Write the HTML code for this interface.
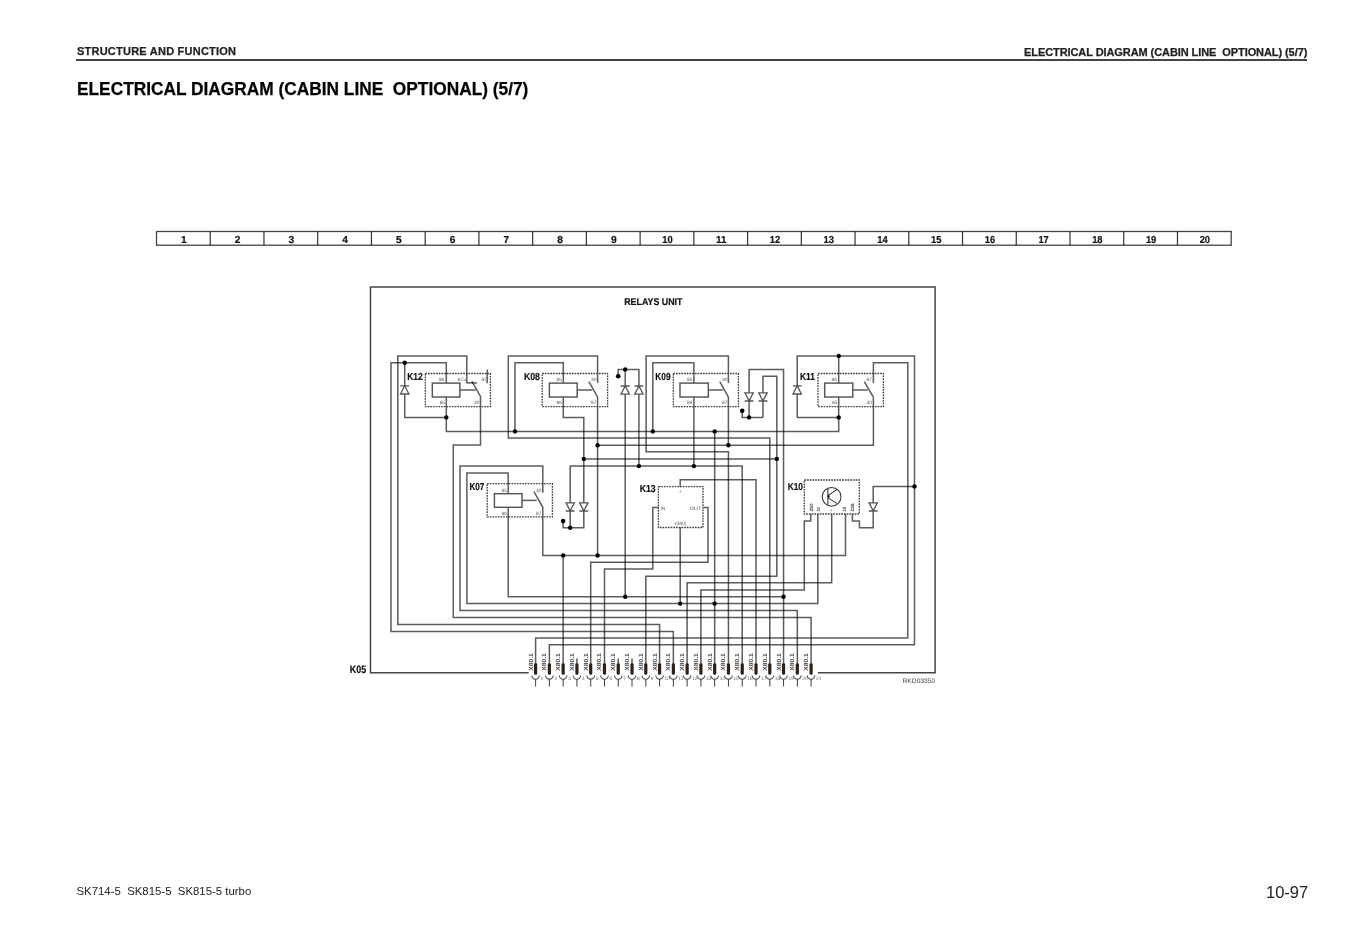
<!DOCTYPE html>
<html><head><meta charset="utf-8">
<style>
html,body{margin:0;padding:0;background:#fff;}
body{width:1349px;height:949px;position:relative;overflow:hidden;font-family:"Liberation Sans",sans-serif;color:#1a1a1a;}
.t{position:absolute;white-space:pre;line-height:1;}
.b{-webkit-text-stroke:0.25px currentColor;}
#hl{left:77px;top:45.5px;font-size:11px;font-weight:bold;letter-spacing:0.23px;color:#222;}
#hr{left:1024px;top:46.5px;font-size:11px;font-weight:bold;color:#222;letter-spacing:-0.08px;}
#rule{position:absolute;left:76px;top:59px;width:1230.5px;height:1.6px;background:#444;}
#title{left:77px;top:79.5px;font-size:18px;font-weight:bold;color:#000;transform:scaleX(0.961);transform-origin:0 0;}
#fl{left:76.5px;top:885.5px;font-size:11.4px;color:#222;}
#fr{left:1266px;top:883.5px;font-size:16.5px;color:#222;}
svg path{mix-blend-mode:multiply;}
svg text{font-family:"Liberation Sans",sans-serif;text-rendering:geometricPrecision;}
</style></head><body>
<div class="t b" id="hl">STRUCTURE AND FUNCTION</div>
<div class="t b" id="hr">ELECTRICAL DIAGRAM (CABIN LINE  OPTIONAL) (5/7)</div>
<div id="rule"></div>
<div class="t b" id="title">ELECTRICAL DIAGRAM (CABIN LINE  OPTIONAL) (5/7)</div>
<svg width="1349" height="949" viewBox="0 0 1349 949" style="position:absolute;left:0;top:0">
<rect x="156.5" y="231.5" width="1074.7" height="13.7" fill="none" stroke="#444" stroke-width="1.3"/>
<path d="M210.24,231.5 V245.2" stroke="#333" stroke-width="1.2"/>
<path d="M263.97,231.5 V245.2" stroke="#333" stroke-width="1.2"/>
<path d="M317.7,231.5 V245.2" stroke="#333" stroke-width="1.2"/>
<path d="M371.44,231.5 V245.2" stroke="#333" stroke-width="1.2"/>
<path d="M425.18,231.5 V245.2" stroke="#333" stroke-width="1.2"/>
<path d="M478.91,231.5 V245.2" stroke="#333" stroke-width="1.2"/>
<path d="M532.64,231.5 V245.2" stroke="#333" stroke-width="1.2"/>
<path d="M586.38,231.5 V245.2" stroke="#333" stroke-width="1.2"/>
<path d="M640.12,231.5 V245.2" stroke="#333" stroke-width="1.2"/>
<path d="M693.85,231.5 V245.2" stroke="#333" stroke-width="1.2"/>
<path d="M747.59,231.5 V245.2" stroke="#333" stroke-width="1.2"/>
<path d="M801.32,231.5 V245.2" stroke="#333" stroke-width="1.2"/>
<path d="M855.05,231.5 V245.2" stroke="#333" stroke-width="1.2"/>
<path d="M908.79,231.5 V245.2" stroke="#333" stroke-width="1.2"/>
<path d="M962.52,231.5 V245.2" stroke="#333" stroke-width="1.2"/>
<path d="M1016.26,231.5 V245.2" stroke="#333" stroke-width="1.2"/>
<path d="M1069.99,231.5 V245.2" stroke="#333" stroke-width="1.2"/>
<path d="M1123.73,231.5 V245.2" stroke="#333" stroke-width="1.2"/>
<path d="M1177.47,231.5 V245.2" stroke="#333" stroke-width="1.2"/>
<text x="183.87" y="242.8" font-size="10.2" font-weight="bold" fill="#111" stroke="#111" stroke-width="0.2" text-anchor="middle">1</text>
<text x="237.6" y="242.8" font-size="10.2" font-weight="bold" fill="#111" stroke="#111" stroke-width="0.2" text-anchor="middle">2</text>
<text x="291.34" y="242.8" font-size="10.2" font-weight="bold" fill="#111" stroke="#111" stroke-width="0.2" text-anchor="middle">3</text>
<text x="345.07" y="242.8" font-size="10.2" font-weight="bold" fill="#111" stroke="#111" stroke-width="0.2" text-anchor="middle">4</text>
<text x="398.81" y="242.8" font-size="10.2" font-weight="bold" fill="#111" stroke="#111" stroke-width="0.2" text-anchor="middle">5</text>
<text x="452.54" y="242.8" font-size="10.2" font-weight="bold" fill="#111" stroke="#111" stroke-width="0.2" text-anchor="middle">6</text>
<text x="506.28" y="242.8" font-size="10.2" font-weight="bold" fill="#111" stroke="#111" stroke-width="0.2" text-anchor="middle">7</text>
<text x="560.01" y="242.8" font-size="10.2" font-weight="bold" fill="#111" stroke="#111" stroke-width="0.2" text-anchor="middle">8</text>
<text x="613.75" y="242.8" font-size="10.2" font-weight="bold" fill="#111" stroke="#111" stroke-width="0.2" text-anchor="middle">9</text>
<text x="667.48" y="242.8" font-size="10.2" font-weight="bold" fill="#111" stroke="#111" stroke-width="0.2" text-anchor="middle" textLength="10.4" lengthAdjust="spacingAndGlyphs">10</text>
<text x="721.22" y="242.8" font-size="10.2" font-weight="bold" fill="#111" stroke="#111" stroke-width="0.2" text-anchor="middle" textLength="10.4" lengthAdjust="spacingAndGlyphs">11</text>
<text x="774.95" y="242.8" font-size="10.2" font-weight="bold" fill="#111" stroke="#111" stroke-width="0.2" text-anchor="middle" textLength="10.4" lengthAdjust="spacingAndGlyphs">12</text>
<text x="828.69" y="242.8" font-size="10.2" font-weight="bold" fill="#111" stroke="#111" stroke-width="0.2" text-anchor="middle" textLength="10.4" lengthAdjust="spacingAndGlyphs">13</text>
<text x="882.42" y="242.8" font-size="10.2" font-weight="bold" fill="#111" stroke="#111" stroke-width="0.2" text-anchor="middle" textLength="10.4" lengthAdjust="spacingAndGlyphs">14</text>
<text x="936.16" y="242.8" font-size="10.2" font-weight="bold" fill="#111" stroke="#111" stroke-width="0.2" text-anchor="middle" textLength="10.4" lengthAdjust="spacingAndGlyphs">15</text>
<text x="989.89" y="242.8" font-size="10.2" font-weight="bold" fill="#111" stroke="#111" stroke-width="0.2" text-anchor="middle" textLength="10.4" lengthAdjust="spacingAndGlyphs">16</text>
<text x="1043.63" y="242.8" font-size="10.2" font-weight="bold" fill="#111" stroke="#111" stroke-width="0.2" text-anchor="middle" textLength="10.4" lengthAdjust="spacingAndGlyphs">17</text>
<text x="1097.36" y="242.8" font-size="10.2" font-weight="bold" fill="#111" stroke="#111" stroke-width="0.2" text-anchor="middle" textLength="10.4" lengthAdjust="spacingAndGlyphs">18</text>
<text x="1151.1" y="242.8" font-size="10.2" font-weight="bold" fill="#111" stroke="#111" stroke-width="0.2" text-anchor="middle" textLength="10.4" lengthAdjust="spacingAndGlyphs">19</text>
<text x="1204.83" y="242.8" font-size="10.2" font-weight="bold" fill="#111" stroke="#111" stroke-width="0.2" text-anchor="middle" textLength="10.4" lengthAdjust="spacingAndGlyphs">20</text>
<path d="M528.7,672.8 H370.5 V287 H935.1 V672.8 H818" fill="none" stroke="#444" stroke-width="1.5" />
<path d="M466.8,382.9 V355.9 H397.8 V624.5 H659.58 V663.5" fill="none" stroke="#5c5c5c" stroke-width="1.5" />
<path d="M446.3,383.1 V362.8 H391 V631.4 H673.35 V663.5" fill="none" stroke="#5c5c5c" stroke-width="1.5" />
<path d="M404.7,362.8 V417.4 H446.3" fill="none" stroke="#5c5c5c" stroke-width="1.5" />
<path d="M446.3,397 V431.4 H838.7 V397" fill="none" stroke="#5c5c5c" stroke-width="1.5" />
<path d="M466.8,382.9 H476.9" fill="none" stroke="#5c5c5c" stroke-width="1.5" />
<path d="M471.9,381.4 L480.5,396.5 V445 H453.3 V617.6 H811.1 V663.5" fill="none" stroke="#5c5c5c" stroke-width="1.5" />
<path d="M459.9,390 H475.6" fill="none" stroke="#5c5c5c" stroke-width="1.5" />
<path d="M487.2,369.4 V383.3" fill="none" stroke="#5c5c5c" stroke-width="1.5" />
<path d="M400.3,385.8 H409.09999999999997 M404.7,385.8 L400.5,394.0 H408.9 Z" fill="#fff" stroke="#555" stroke-width="1.3" style="mix-blend-mode:normal"/>
<rect x="425.3" y="373.5" width="65.1" height="33.1" fill="none" stroke="#404040" stroke-width="1.3" stroke-dasharray="1.7 1.0"/>
<rect x="432.3" y="383.1" width="27.6" height="13.9" fill="none" stroke="#555" stroke-width="1.45"/>
<path d="M597.6,382.9 V355.9 H508.3 V438 H769.78 V663.5" fill="none" stroke="#5c5c5c" stroke-width="1.5" />
<path d="M563.3,383.1 V362.8 H515 V431.4" fill="none" stroke="#5c5c5c" stroke-width="1.5" />
<path d="M563.1,521.1 V527.8 H583.8 V417.4 H563.3 V397" fill="none" stroke="#5c5c5c" stroke-width="1.5" />
<path d="M588.9,381.7 L597.6,397.2 V555.5" fill="none" stroke="#5c5c5c" stroke-width="1.5" />
<path d="M577.2,390 H592.2" fill="none" stroke="#5c5c5c" stroke-width="1.5" />
<path d="M597.6,445.2 H873.4 V397.2" fill="none" stroke="#5c5c5c" stroke-width="1.5" />
<path d="M583.8,458.9 H776.8" fill="none" stroke="#5c5c5c" stroke-width="1.5" />
<rect x="542.2" y="373.5" width="65.4" height="33.1" fill="none" stroke="#404040" stroke-width="1.3" stroke-dasharray="1.7 1.0"/>
<rect x="549.4" y="383.1" width="27.8" height="13.9" fill="none" stroke="#555" stroke-width="1.45"/>
<path d="M618.2,376.2 V369.4 H638.9 V466.1" fill="none" stroke="#5c5c5c" stroke-width="1.5" />
<path d="M625.2,369.4 V596.8" fill="none" stroke="#5c5c5c" stroke-width="1.5" />
<path d="M620.8000000000001,386 H629.6 M625.2,386 L621.0,394.2 H629.4000000000001 Z" fill="#fff" stroke="#555" stroke-width="1.3" style="mix-blend-mode:normal"/>
<path d="M634.5,386 H643.3 M638.9,386 L634.6999999999999,394.2 H643.1 Z" fill="#fff" stroke="#555" stroke-width="1.3" style="mix-blend-mode:normal"/>
<path d="M728.4,382.9 V355.9 H646.1 V451.7 H728.45 V663.5" fill="none" stroke="#5c5c5c" stroke-width="1.5" />
<path d="M693.9,383.1 V362.8 H652.8 V431.4" fill="none" stroke="#5c5c5c" stroke-width="1.5" />
<path d="M693.9,397 V466.1" fill="none" stroke="#5c5c5c" stroke-width="1.5" />
<path d="M719.8,381.7 L728.4,397.2 V445.2" fill="none" stroke="#5c5c5c" stroke-width="1.5" />
<path d="M708.3,390 H722.8" fill="none" stroke="#5c5c5c" stroke-width="1.5" />
<rect x="673.3" y="373.5" width="65.1" height="33.1" fill="none" stroke="#404040" stroke-width="1.3" stroke-dasharray="1.7 1.0"/>
<rect x="680" y="383.1" width="28.3" height="13.9" fill="none" stroke="#555" stroke-width="1.45"/>
<path d="M570.2,527.8 V466.1 H742.23 V663.5" fill="none" stroke="#5c5c5c" stroke-width="1.5" />
<path d="M566.0,502.8 H574.4000000000001 L570.2,510.8 Z M565.8000000000001,511.0 H574.6" fill="#fff" stroke="#555" stroke-width="1.3" style="mix-blend-mode:normal"/>
<path d="M579.5999999999999,502.8 H588.0 L583.8,510.8 Z M579.4,511.0 H588.1999999999999" fill="#fff" stroke="#555" stroke-width="1.3" style="mix-blend-mode:normal"/>
<path d="M749.1,417.4 V369.4 H783.55 V663.5" fill="none" stroke="#5c5c5c" stroke-width="1.5" />
<path d="M763,417.4 V376.2 H776.8 V576.2 H645.8 V663.5" fill="none" stroke="#5c5c5c" stroke-width="1.5" />
<path d="M742.2,410.7 V417.4 H763" fill="none" stroke="#5c5c5c" stroke-width="1.5" />
<path d="M744.9,392.8 H753.3000000000001 L749.1,400.8 Z M744.7,401.0 H753.5" fill="#fff" stroke="#555" stroke-width="1.3" style="mix-blend-mode:normal"/>
<path d="M758.8,392.8 H767.2 L763,400.8 Z M758.6,401.0 H767.4" fill="#fff" stroke="#555" stroke-width="1.3" style="mix-blend-mode:normal"/>
<path d="M714.68,431.4 V663.5" fill="none" stroke="#5c5c5c" stroke-width="1.5" />
<path d="M797.2,417.4 V355.9 H914.5 V644.8 H549.38 V663.5" fill="none" stroke="#5c5c5c" stroke-width="1.5" />
<path d="M838.7,355.9 V383.1" fill="none" stroke="#5c5c5c" stroke-width="1.5" />
<path d="M797.2,417.4 H838.7" fill="none" stroke="#5c5c5c" stroke-width="1.5" />
<path d="M873.4,382.9 V362.8 H907.8 V638 H535.6 V663.5" fill="none" stroke="#5c5c5c" stroke-width="1.5" />
<path d="M864.3,381.7 L873.4,397.2" fill="none" stroke="#5c5c5c" stroke-width="1.5" />
<path d="M852.8,390 H867.8" fill="none" stroke="#5c5c5c" stroke-width="1.5" />
<path d="M792.8000000000001,385.8 H801.6 M797.2,385.8 L793.0,394.0 H801.4000000000001 Z" fill="#fff" stroke="#555" stroke-width="1.3" style="mix-blend-mode:normal"/>
<rect x="818" y="373.5" width="65.4" height="33.1" fill="none" stroke="#404040" stroke-width="1.3" stroke-dasharray="1.7 1.0"/>
<rect x="824.7" y="383.1" width="28.1" height="13.9" fill="none" stroke="#555" stroke-width="1.45"/>
<path d="M542.8,492.8 V466.1 H460 V610.6 H797.33 V663.5" fill="none" stroke="#5c5c5c" stroke-width="1.5" />
<path d="M508.2,493.7 V473 H466.9 V603.6 H817.8 V514" fill="none" stroke="#5c5c5c" stroke-width="1.5" />
<path d="M508.2,507.3 V596.8 H783.6" fill="none" stroke="#5c5c5c" stroke-width="1.5" />
<path d="M533.9,491.7 L542.8,507.3 V555.5 H845.5 V514" fill="none" stroke="#5c5c5c" stroke-width="1.5" />
<path d="M522,500.4 H536.7" fill="none" stroke="#5c5c5c" stroke-width="1.5" />
<path d="M563.15,555.5 V663.5" fill="none" stroke="#5c5c5c" stroke-width="1.5" />
<rect x="487.2" y="483.7" width="65.2" height="33.1" fill="none" stroke="#404040" stroke-width="1.3" stroke-dasharray="1.7 1.0"/>
<rect x="494.4" y="493.7" width="27.6" height="13.6" fill="none" stroke="#555" stroke-width="1.45"/>
<path d="M680.2,486.7 V479.7 H756.0 V663.5" fill="none" stroke="#5c5c5c" stroke-width="1.5" />
<path d="M658.4,507.6 H652.8 V569 H604.48 V663.5" fill="none" stroke="#5c5c5c" stroke-width="1.5" />
<path d="M703,507.6 H708 V562.3 H590.7 V663.5" fill="none" stroke="#5c5c5c" stroke-width="1.5" />
<path d="M680.2,527.5 V603.6" fill="none" stroke="#5c5c5c" stroke-width="1.5" />
<rect x="658.4" y="486.7" width="44.6" height="40.8" fill="none" stroke="#404040" stroke-width="1.3" stroke-dasharray="1.7 1.0"/>
<path d="M810.7,514 V521 H804.3 V590 H700.9 V663.5" fill="none" stroke="#5c5c5c" stroke-width="1.5" />
<path d="M831.7,514 V582.8 H687.12 V663.5" fill="none" stroke="#5c5c5c" stroke-width="1.5" />
<path d="M852.4,514 V521 H859.4 V527.8 H873.2 V486.4 H914.5" fill="none" stroke="#5c5c5c" stroke-width="1.5" />
<path d="M869.0,502.8 H877.4000000000001 L873.2,510.8 Z M868.8000000000001,511.0 H877.6" fill="#fff" stroke="#555" stroke-width="1.3" style="mix-blend-mode:normal"/>
<rect x="804.3" y="480" width="55.0" height="34" fill="none" stroke="#404040" stroke-width="1.3" stroke-dasharray="1.7 1.0"/>
<circle cx="831.6" cy="496.8" r="9.4" fill="none" stroke="#333" stroke-width="1.05"/>
<path d="M827.9,489 V504.7 M827.9,495.6 L836.9,489.6 M827.9,497.6 L836.9,503.4" fill="none" stroke="#333" stroke-width="1.05" />
<path d="M576.93,658.4 V663.5" fill="none" stroke="#5c5c5c" stroke-width="1.5" />
<path d="M618.25,658.4 V663.5" fill="none" stroke="#5c5c5c" stroke-width="1.5" />
<path d="M632.02,658.4 V663.5" fill="none" stroke="#5c5c5c" stroke-width="1.5" />
<rect x="534.0" y="663.3" width="3.2" height="11.4" rx="1.1" fill="#2a2119"/>
<path d="M531.8,675.6 A3.8,3.6 0 0 0 539.4,675.6 M535.6,679.2 V686.5" fill="none" stroke="#444" stroke-width="1.05" />
<text x="540.6" y="679.6" font-size="4.8" font-weight="normal" fill="#666" text-anchor="start" >1</text>
<text transform="translate(532.6,670.7) rotate(-90)" font-size="6" font-weight="bold" fill="#4a4a4a" textLength="17.5" lengthAdjust="spacingAndGlyphs">X80.1</text>
<rect x="547.78" y="663.3" width="3.2" height="11.4" rx="1.1" fill="#2a2119"/>
<path d="M545.58,675.6 A3.8,3.6 0 0 0 553.18,675.6 M549.38,679.2 V686.5" fill="none" stroke="#444" stroke-width="1.05" />
<text x="554.38" y="679.6" font-size="4.8" font-weight="normal" fill="#666" text-anchor="start" >2</text>
<text transform="translate(546.38,670.7) rotate(-90)" font-size="6" font-weight="bold" fill="#4a4a4a" textLength="17.5" lengthAdjust="spacingAndGlyphs">X80.1</text>
<rect x="561.55" y="663.3" width="3.2" height="11.4" rx="1.1" fill="#2a2119"/>
<path d="M559.35,675.6 A3.8,3.6 0 0 0 566.95,675.6 M563.15,679.2 V686.5" fill="none" stroke="#444" stroke-width="1.05" />
<text x="568.15" y="679.6" font-size="4.8" font-weight="normal" fill="#666" text-anchor="start" >3</text>
<text transform="translate(560.15,670.7) rotate(-90)" font-size="6" font-weight="bold" fill="#4a4a4a" textLength="17.5" lengthAdjust="spacingAndGlyphs">X80.1</text>
<rect x="575.33" y="663.3" width="3.2" height="11.4" rx="1.1" fill="#2a2119"/>
<path d="M573.13,675.6 A3.8,3.6 0 0 0 580.73,675.6 M576.93,679.2 V686.5" fill="none" stroke="#444" stroke-width="1.05" />
<text x="581.93" y="679.6" font-size="4.8" font-weight="normal" fill="#666" text-anchor="start" >4</text>
<text transform="translate(573.93,670.7) rotate(-90)" font-size="6" font-weight="bold" fill="#4a4a4a" textLength="17.5" lengthAdjust="spacingAndGlyphs">X80.1</text>
<rect x="589.1" y="663.3" width="3.2" height="11.4" rx="1.1" fill="#2a2119"/>
<path d="M586.9,675.6 A3.8,3.6 0 0 0 594.5,675.6 M590.7,679.2 V686.5" fill="none" stroke="#444" stroke-width="1.05" />
<text x="595.7" y="679.6" font-size="4.8" font-weight="normal" fill="#666" text-anchor="start" >5</text>
<text transform="translate(587.7,670.7) rotate(-90)" font-size="6" font-weight="bold" fill="#4a4a4a" textLength="17.5" lengthAdjust="spacingAndGlyphs">X80.1</text>
<rect x="602.88" y="663.3" width="3.2" height="11.4" rx="1.1" fill="#2a2119"/>
<path d="M600.68,675.6 A3.8,3.6 0 0 0 608.28,675.6 M604.48,679.2 V686.5" fill="none" stroke="#444" stroke-width="1.05" />
<text x="609.48" y="679.6" font-size="4.8" font-weight="normal" fill="#666" text-anchor="start" >6</text>
<text transform="translate(601.48,670.7) rotate(-90)" font-size="6" font-weight="bold" fill="#4a4a4a" textLength="17.5" lengthAdjust="spacingAndGlyphs">X80.1</text>
<rect x="616.65" y="663.3" width="3.2" height="11.4" rx="1.1" fill="#2a2119"/>
<path d="M614.45,675.6 A3.8,3.6 0 0 0 622.05,675.6 M618.25,679.2 V686.5" fill="none" stroke="#444" stroke-width="1.05" />
<text x="623.25" y="679.6" font-size="4.8" font-weight="normal" fill="#666" text-anchor="start" >7</text>
<text transform="translate(615.25,670.7) rotate(-90)" font-size="6" font-weight="bold" fill="#4a4a4a" textLength="17.5" lengthAdjust="spacingAndGlyphs">X80.1</text>
<rect x="630.42" y="663.3" width="3.2" height="11.4" rx="1.1" fill="#2a2119"/>
<path d="M628.22,675.6 A3.8,3.6 0 0 0 635.82,675.6 M632.02,679.2 V686.5" fill="none" stroke="#444" stroke-width="1.05" />
<text x="637.02" y="679.6" font-size="4.8" font-weight="normal" fill="#666" text-anchor="start" >8</text>
<text transform="translate(629.02,670.7) rotate(-90)" font-size="6" font-weight="bold" fill="#4a4a4a" textLength="17.5" lengthAdjust="spacingAndGlyphs">X80.1</text>
<rect x="644.2" y="663.3" width="3.2" height="11.4" rx="1.1" fill="#2a2119"/>
<path d="M642.0,675.6 A3.8,3.6 0 0 0 649.6,675.6 M645.8,679.2 V686.5" fill="none" stroke="#444" stroke-width="1.05" />
<text x="650.8" y="679.6" font-size="4.8" font-weight="normal" fill="#666" text-anchor="start" >9</text>
<text transform="translate(642.8,670.7) rotate(-90)" font-size="6" font-weight="bold" fill="#4a4a4a" textLength="17.5" lengthAdjust="spacingAndGlyphs">X80.1</text>
<rect x="657.98" y="663.3" width="3.2" height="11.4" rx="1.1" fill="#2a2119"/>
<path d="M655.78,675.6 A3.8,3.6 0 0 0 663.38,675.6 M659.58,679.2 V686.5" fill="none" stroke="#444" stroke-width="1.05" />
<text x="664.58" y="679.6" font-size="4.8" font-weight="normal" fill="#666" text-anchor="start" >10</text>
<text transform="translate(656.58,670.7) rotate(-90)" font-size="6" font-weight="bold" fill="#4a4a4a" textLength="17.5" lengthAdjust="spacingAndGlyphs">X80.1</text>
<rect x="671.75" y="663.3" width="3.2" height="11.4" rx="1.1" fill="#2a2119"/>
<path d="M669.55,675.6 A3.8,3.6 0 0 0 677.15,675.6 M673.35,679.2 V686.5" fill="none" stroke="#444" stroke-width="1.05" />
<text x="678.35" y="679.6" font-size="4.8" font-weight="normal" fill="#666" text-anchor="start" >11</text>
<text transform="translate(670.35,670.7) rotate(-90)" font-size="6" font-weight="bold" fill="#4a4a4a" textLength="17.5" lengthAdjust="spacingAndGlyphs">X80.1</text>
<rect x="685.52" y="663.3" width="3.2" height="11.4" rx="1.1" fill="#2a2119"/>
<path d="M683.32,675.6 A3.8,3.6 0 0 0 690.92,675.6 M687.12,679.2 V686.5" fill="none" stroke="#444" stroke-width="1.05" />
<text x="692.12" y="679.6" font-size="4.8" font-weight="normal" fill="#666" text-anchor="start" >12</text>
<text transform="translate(684.12,670.7) rotate(-90)" font-size="6" font-weight="bold" fill="#4a4a4a" textLength="17.5" lengthAdjust="spacingAndGlyphs">X80.1</text>
<rect x="699.3" y="663.3" width="3.2" height="11.4" rx="1.1" fill="#2a2119"/>
<path d="M697.1,675.6 A3.8,3.6 0 0 0 704.7,675.6 M700.9,679.2 V686.5" fill="none" stroke="#444" stroke-width="1.05" />
<text x="705.9" y="679.6" font-size="4.8" font-weight="normal" fill="#666" text-anchor="start" >13</text>
<text transform="translate(697.9,670.7) rotate(-90)" font-size="6" font-weight="bold" fill="#4a4a4a" textLength="17.5" lengthAdjust="spacingAndGlyphs">X80.1</text>
<rect x="713.08" y="663.3" width="3.2" height="11.4" rx="1.1" fill="#2a2119"/>
<path d="M710.88,675.6 A3.8,3.6 0 0 0 718.48,675.6 M714.68,679.2 V686.5" fill="none" stroke="#444" stroke-width="1.05" />
<text x="719.68" y="679.6" font-size="4.8" font-weight="normal" fill="#666" text-anchor="start" >14</text>
<text transform="translate(711.68,670.7) rotate(-90)" font-size="6" font-weight="bold" fill="#4a4a4a" textLength="17.5" lengthAdjust="spacingAndGlyphs">X80.1</text>
<rect x="726.85" y="663.3" width="3.2" height="11.4" rx="1.1" fill="#2a2119"/>
<path d="M724.65,675.6 A3.8,3.6 0 0 0 732.25,675.6 M728.45,679.2 V686.5" fill="none" stroke="#444" stroke-width="1.05" />
<text x="733.45" y="679.6" font-size="4.8" font-weight="normal" fill="#666" text-anchor="start" >15</text>
<text transform="translate(725.45,670.7) rotate(-90)" font-size="6" font-weight="bold" fill="#4a4a4a" textLength="17.5" lengthAdjust="spacingAndGlyphs">X80.1</text>
<rect x="740.63" y="663.3" width="3.2" height="11.4" rx="1.1" fill="#2a2119"/>
<path d="M738.43,675.6 A3.8,3.6 0 0 0 746.03,675.6 M742.23,679.2 V686.5" fill="none" stroke="#444" stroke-width="1.05" />
<text x="747.23" y="679.6" font-size="4.8" font-weight="normal" fill="#666" text-anchor="start" >16</text>
<text transform="translate(739.23,670.7) rotate(-90)" font-size="6" font-weight="bold" fill="#4a4a4a" textLength="17.5" lengthAdjust="spacingAndGlyphs">X80.1</text>
<rect x="754.4" y="663.3" width="3.2" height="11.4" rx="1.1" fill="#2a2119"/>
<path d="M752.2,675.6 A3.8,3.6 0 0 0 759.8,675.6 M756.0,679.2 V686.5" fill="none" stroke="#444" stroke-width="1.05" />
<text x="761.0" y="679.6" font-size="4.8" font-weight="normal" fill="#666" text-anchor="start" >17</text>
<text transform="translate(753.0,670.7) rotate(-90)" font-size="6" font-weight="bold" fill="#4a4a4a" textLength="17.5" lengthAdjust="spacingAndGlyphs">X80.1</text>
<rect x="768.18" y="663.3" width="3.2" height="11.4" rx="1.1" fill="#2a2119"/>
<path d="M765.98,675.6 A3.8,3.6 0 0 0 773.58,675.6 M769.78,679.2 V686.5" fill="none" stroke="#444" stroke-width="1.05" />
<text x="774.78" y="679.6" font-size="4.8" font-weight="normal" fill="#666" text-anchor="start" >18</text>
<text transform="translate(766.78,670.7) rotate(-90)" font-size="6" font-weight="bold" fill="#4a4a4a" textLength="17.5" lengthAdjust="spacingAndGlyphs">X80.1</text>
<rect x="781.95" y="663.3" width="3.2" height="11.4" rx="1.1" fill="#2a2119"/>
<path d="M779.75,675.6 A3.8,3.6 0 0 0 787.35,675.6 M783.55,679.2 V686.5" fill="none" stroke="#444" stroke-width="1.05" />
<text x="788.55" y="679.6" font-size="4.8" font-weight="normal" fill="#666" text-anchor="start" >19</text>
<text transform="translate(780.55,670.7) rotate(-90)" font-size="6" font-weight="bold" fill="#4a4a4a" textLength="17.5" lengthAdjust="spacingAndGlyphs">X80.1</text>
<rect x="795.73" y="663.3" width="3.2" height="11.4" rx="1.1" fill="#2a2119"/>
<path d="M793.53,675.6 A3.8,3.6 0 0 0 801.13,675.6 M797.33,679.2 V686.5" fill="none" stroke="#444" stroke-width="1.05" />
<text x="802.33" y="679.6" font-size="4.8" font-weight="normal" fill="#666" text-anchor="start" >20</text>
<text transform="translate(794.33,670.7) rotate(-90)" font-size="6" font-weight="bold" fill="#4a4a4a" textLength="17.5" lengthAdjust="spacingAndGlyphs">X80.1</text>
<rect x="809.5" y="663.3" width="3.2" height="11.4" rx="1.1" fill="#2a2119"/>
<path d="M807.3,675.6 A3.8,3.6 0 0 0 814.9,675.6 M811.1,679.2 V686.5" fill="none" stroke="#444" stroke-width="1.05" />
<text x="816.1" y="679.6" font-size="4.8" font-weight="normal" fill="#666" text-anchor="start" >21</text>
<text transform="translate(808.1,670.7) rotate(-90)" font-size="6" font-weight="bold" fill="#4a4a4a" textLength="17.5" lengthAdjust="spacingAndGlyphs">X80.1</text>
<text x="407.2" y="379.6" font-size="10.2" font-weight="bold" fill="#111" text-anchor="start" textLength="15.6" lengthAdjust="spacingAndGlyphs" stroke="#111" stroke-width="0.2" >K12</text>
<text x="523.9" y="379.6" font-size="10.2" font-weight="bold" fill="#111" text-anchor="start" textLength="16.1" lengthAdjust="spacingAndGlyphs" stroke="#111" stroke-width="0.2" >K08</text>
<text x="655.3" y="379.6" font-size="10.2" font-weight="bold" fill="#111" text-anchor="start" textLength="15.3" lengthAdjust="spacingAndGlyphs" stroke="#111" stroke-width="0.2" >K09</text>
<text x="800" y="379.6" font-size="10.2" font-weight="bold" fill="#111" text-anchor="start" textLength="15" lengthAdjust="spacingAndGlyphs" stroke="#111" stroke-width="0.2" >K11</text>
<text x="469.4" y="490" font-size="10.2" font-weight="bold" fill="#111" text-anchor="start" textLength="15" lengthAdjust="spacingAndGlyphs" stroke="#111" stroke-width="0.2" >K07</text>
<text x="639.7" y="491.8" font-size="10.2" font-weight="bold" fill="#111" text-anchor="start" textLength="15.9" lengthAdjust="spacingAndGlyphs" stroke="#111" stroke-width="0.2" >K13</text>
<text x="787.7" y="489.6" font-size="10.2" font-weight="bold" fill="#111" text-anchor="start" textLength="15.3" lengthAdjust="spacingAndGlyphs" stroke="#111" stroke-width="0.2" >K10</text>
<text x="349.8" y="673" font-size="10.6" font-weight="bold" fill="#111" text-anchor="start" textLength="16.4" lengthAdjust="spacingAndGlyphs" stroke="#111" stroke-width="0.2" >K05</text>
<text x="624.2" y="305.2" font-size="9.8" font-weight="bold" fill="#111" text-anchor="start" textLength="58.3" lengthAdjust="spacingAndGlyphs" stroke="#111" stroke-width="0.2" >RELAYS UNIT</text>
<text x="902.5" y="682.5" font-size="6.5" font-weight="normal" fill="#444" text-anchor="start" textLength="32.8" lengthAdjust="spacingAndGlyphs" >RKD03350</text>
<text x="438.9" y="381" font-size="4.8" font-weight="normal" fill="#555" text-anchor="start" >86</text>
<text x="439.7" y="404" font-size="4.8" font-weight="normal" fill="#555" text-anchor="start" >85</text>
<text x="457.8" y="381" font-size="4.8" font-weight="normal" fill="#555" text-anchor="start" >87a</text>
<text x="481.4" y="381" font-size="4.8" font-weight="normal" fill="#555" text-anchor="start" >87</text>
<text x="474" y="404" font-size="4.8" font-weight="normal" fill="#555" text-anchor="start" >30</text>
<text x="556.5" y="381" font-size="4.8" font-weight="normal" fill="#555" text-anchor="start" >85</text>
<text x="556.5" y="404" font-size="4.8" font-weight="normal" fill="#555" text-anchor="start" >86</text>
<text x="591" y="381" font-size="4.8" font-weight="normal" fill="#555" text-anchor="start" >30</text>
<text x="591" y="404" font-size="4.8" font-weight="normal" fill="#555" text-anchor="start" >87</text>
<text x="687" y="381" font-size="4.8" font-weight="normal" fill="#555" text-anchor="start" >85</text>
<text x="687" y="404" font-size="4.8" font-weight="normal" fill="#555" text-anchor="start" >86</text>
<text x="722" y="381" font-size="4.8" font-weight="normal" fill="#555" text-anchor="start" >30</text>
<text x="722" y="404" font-size="4.8" font-weight="normal" fill="#555" text-anchor="start" >87</text>
<text x="831.5" y="381" font-size="4.8" font-weight="normal" fill="#555" text-anchor="start" >86</text>
<text x="832" y="404" font-size="4.8" font-weight="normal" fill="#555" text-anchor="start" >85</text>
<text x="866.5" y="381" font-size="4.8" font-weight="normal" fill="#555" text-anchor="start" >87</text>
<text x="866.5" y="404" font-size="4.8" font-weight="normal" fill="#555" text-anchor="start" >30</text>
<text x="501.5" y="491.5" font-size="4.8" font-weight="normal" fill="#555" text-anchor="start" >85</text>
<text x="501.5" y="514.5" font-size="4.8" font-weight="normal" fill="#555" text-anchor="start" >86</text>
<text x="536" y="491.5" font-size="4.8" font-weight="normal" fill="#555" text-anchor="start" >30</text>
<text x="536" y="514.5" font-size="4.8" font-weight="normal" fill="#555" text-anchor="start" >87</text>
<text x="660.5" y="509.5" font-size="4.8" font-weight="normal" fill="#555" text-anchor="start" >IN</text>
<text x="689.7" y="509.5" font-size="4.8" font-weight="normal" fill="#555" text-anchor="start" textLength="11.5" lengthAdjust="spacingAndGlyphs" >OUT</text>
<text x="673.9" y="525.3" font-size="4.8" font-weight="normal" fill="#555" text-anchor="start" textLength="12.5" lengthAdjust="spacingAndGlyphs" >-(GND)</text>
<text x="678.8" y="493" font-size="4.8" font-weight="normal" fill="#555" text-anchor="start" >+</text>
<text transform="translate(812.5,511.5) rotate(-90)" font-size="4.6" font-weight="bold" fill="#333" textLength="8" lengthAdjust="spacingAndGlyphs">Z50</text>
<text transform="translate(819.7,511.5) rotate(-90)" font-size="4.6" font-weight="bold" fill="#333" textLength="4.5" lengthAdjust="spacingAndGlyphs">31</text>
<text transform="translate(845.8,511.5) rotate(-90)" font-size="4.6" font-weight="bold" fill="#333" textLength="4.5" lengthAdjust="spacingAndGlyphs">15</text>
<text transform="translate(854.2,511.5) rotate(-90)" font-size="4.6" font-weight="bold" fill="#333" textLength="8" lengthAdjust="spacingAndGlyphs">Z36</text>
<text x="830" y="511.5" font-size="4.8" font-weight="normal" fill="#555" text-anchor="start" >+</text>
<circle cx="404.7" cy="362.8" r="2.2" fill="#000"/>
<circle cx="446.3" cy="417.4" r="2.2" fill="#000"/>
<circle cx="515" cy="431.4" r="2.2" fill="#000"/>
<circle cx="597.6" cy="445.2" r="2.2" fill="#000"/>
<circle cx="583.8" cy="458.9" r="2.2" fill="#000"/>
<circle cx="625.2" cy="369.4" r="2.2" fill="#000"/>
<circle cx="618.2" cy="376.3" r="2.3" fill="#000"/>
<circle cx="652.8" cy="431.4" r="2.2" fill="#000"/>
<circle cx="728.4" cy="445.2" r="2.2" fill="#000"/>
<circle cx="693.9" cy="466.1" r="2.2" fill="#000"/>
<circle cx="570.2" cy="527.8" r="2.2" fill="#000"/>
<circle cx="563.1" cy="521.1" r="2.3" fill="#000"/>
<circle cx="638.9" cy="466.1" r="2.2" fill="#000"/>
<circle cx="749.1" cy="417.4" r="2.2" fill="#000"/>
<circle cx="742.2" cy="410.7" r="2.3" fill="#000"/>
<circle cx="776.8" cy="458.9" r="2.2" fill="#000"/>
<circle cx="714.68" cy="431.4" r="2.2" fill="#000"/>
<circle cx="714.68" cy="603.6" r="2.2" fill="#000"/>
<circle cx="838.7" cy="355.9" r="2.2" fill="#000"/>
<circle cx="838.7" cy="417.4" r="2.2" fill="#000"/>
<circle cx="625.2" cy="596.8" r="2.2" fill="#000"/>
<circle cx="783.6" cy="596.8" r="2.2" fill="#000"/>
<circle cx="563.2" cy="555.5" r="2.2" fill="#000"/>
<circle cx="597.6" cy="555.5" r="2.2" fill="#000"/>
<circle cx="680.2" cy="603.6" r="2.2" fill="#000"/>
<circle cx="828.6" cy="496.4" r="1.1" fill="#000"/>
<circle cx="914.5" cy="486.4" r="2.2" fill="#000"/>
</svg>
<div class="t" id="fl">SK714-5  SK815-5  SK815-5 turbo</div>
<div class="t" id="fr">10-97</div>
</body></html>
